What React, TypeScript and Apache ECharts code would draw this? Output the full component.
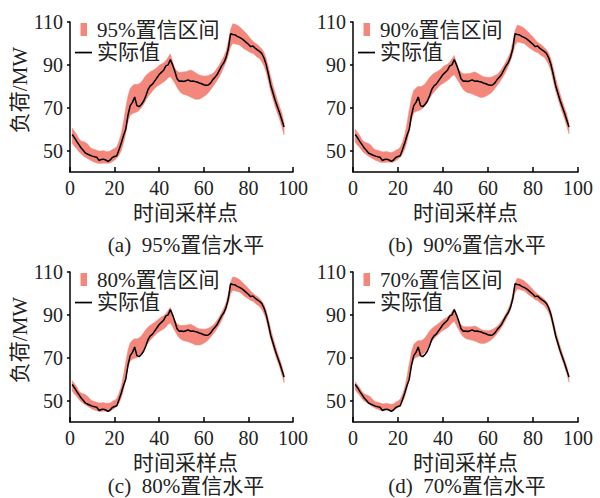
import React, { useEffect, useRef } from "react";
import * as echarts from "echarts";

// ---------- data ----------
const samplePoints = Array.from({ length: 96 }, (_, i) => i + 1);

const actual = [
  57.5, 56, 54.3, 52.8, 51.2, 50, 48.8, 48.3, 47.8, 47.4,
  47.1, 46.9, 45.4, 45.8, 46, 45.6, 45, 45.6, 46.8, 47.2,
  47.6, 50.5, 53.5, 57, 60, 66.5, 71, 72.5, 75, 71,
  70.5, 71.5, 73, 75.5, 78.5, 80.2, 81, 82.5, 84, 85.5,
  86.5, 87.5, 89.5, 90, 92.5, 90, 87, 83.5, 82.3, 82.5,
  82.2, 82.6, 83, 82.4, 82.5, 82.2, 82, 81.5, 81.2, 80.7,
  80.5, 80.6, 81.5, 83, 84.2, 85.5, 87.5, 89.5, 91, 93.5,
  97.5, 104.5, 104.2, 104, 103.3, 102.8, 102.2, 101.4, 100.5, 99.6,
  98.5, 98.8, 97.8, 97, 96.3, 95.3, 93.2, 90, 85.5, 80.5,
  77, 73.5, 70.5, 67.5, 64.3, 61,
];

const upper95 = [
  60.4, 59, 57.5, 55.5, 54.5, 54.2, 53.8, 53, 51.5, 50.8,
  50.5, 50.2, 49.8, 49.8, 50, 49.6, 49.5, 49.8, 50.5, 51,
  51.8, 54.5, 58, 63.5, 70, 75.5, 79, 80.2, 81, 80.8,
  81.2, 82, 83.5, 85, 86, 86.8, 87.4, 88, 88.8, 89.8,
  90.4, 91, 92, 93.5, 95.2, 91.5, 88.5, 87, 86.5, 86.5,
  86.8, 86.8, 87.2, 87.6, 87.2, 86.5, 85.8, 85.3, 85, 84.8,
  84.8, 85, 85.5, 86, 87, 88.5, 90, 92, 94, 96.5,
  101, 106.5, 109.2, 109, 108.5, 107.8, 106.8, 105.8, 104.7, 103.5,
  102.2, 101, 100.2, 99.5, 98.5, 97.5, 95.8, 93, 89, 84.5,
  80.5, 77, 73.5, 70.5, 67.5, 63,
];
const lower95 = [
  53.4, 52, 50.8, 49.5, 48.5, 47.5, 46.8, 46.2, 45.6, 45,
  44.6, 44.2, 44, 44, 44.1, 44.1, 44, 44.2, 44.8, 45.5,
  46.5, 47.8, 50, 53.4, 58, 63.5, 66.6, 67.2, 67.6, 68,
  68.8, 70, 71.5, 73.4, 75.2, 76.5, 77.8, 79, 80, 80.6,
  81.3, 82, 82.8, 84, 84.5, 83, 81.4, 79.5, 77.8, 76.8,
  76.2, 75.9, 75.5, 75, 74.5, 74, 73.9, 74, 74.5, 75.2,
  75.9, 77, 78.3, 79.8, 81.2, 82.8, 84.5, 86.5, 89, 91.5,
  94.5, 98.5, 100, 99.8, 99.5, 99.3, 98.5, 97.5, 96.9, 96.3,
  95.6, 95.4, 94.5, 93.6, 93, 91.5, 89.5, 86.5, 82, 77.5,
  74, 70.5, 67.5, 64.5, 61, 57.3,
];

const upper90 = [
  59.9, 58.5, 57.0, 55.1, 54.1, 53.7, 53.3, 52.5, 51.1, 50.4,
  50.1, 49.8, 49.4, 49.4, 49.6, 49.2, 49.1, 49.4, 50.1, 50.6,
  51.5, 54.0, 57.4, 62.8, 69.1, 74.6, 78.1, 79.2, 80.0, 79.8,
  80.3, 81.1, 82.6, 84.1, 85.2, 86.1, 86.7, 87.3, 88.1, 89.1,
  89.8, 90.3, 91.3, 92.8, 94.4, 90.9, 88.0, 86.5, 85.9, 85.8,
  86.0, 86.0, 86.4, 86.7, 86.3, 85.6, 85.0, 84.5, 84.3, 84.1,
  84.2, 84.4, 85.0, 85.5, 86.6, 88.1, 89.6, 91.6, 93.6, 96.1,
  100.6, 105.9, 108.5, 108.3, 107.8, 107.2, 106.2, 105.2, 104.1, 103.0,
  101.7, 100.6, 99.8, 99.1, 98.1, 97.1, 95.4, 92.6, 88.5, 84.0,
  80.1, 76.6, 73.1, 70.1, 67.1, 62.6,
];
const lower90 = [
  53.9, 52.5, 51.4, 49.9, 48.9, 48.1, 47.3, 46.7, 46.1, 45.4,
  45.1, 44.6, 44.4, 44.4, 44.6, 44.6, 44.5, 44.6, 45.3, 46.0,
  46.9, 48.4, 50.6, 54.2, 58.9, 64.4, 67.5, 68.2, 68.6, 69.0,
  69.7, 70.9, 72.4, 74.3, 76.0, 77.3, 78.5, 79.7, 80.7, 81.3,
  82.0, 82.7, 83.5, 84.8, 85.4, 83.7, 82.0, 80.1, 78.5, 77.6,
  77.0, 76.8, 76.4, 75.9, 75.5, 75.0, 74.8, 74.9, 75.3, 75.9,
  76.6, 77.6, 78.8, 80.3, 81.6, 83.3, 85.0, 87.0, 89.4, 91.9,
  95.0, 99.1, 100.7, 100.5, 100.2, 100.0, 99.2, 98.2, 97.5, 96.8,
  96.1, 95.8, 95.0, 94.1, 93.5, 91.9, 90.0, 87.0, 82.5, 78.0,
  74.5, 71.0, 67.9, 64.9, 61.5, 57.8,
];

const upper80 = [
  59.3, 57.9, 56.5, 54.5, 53.5, 53.2, 52.7, 51.9, 50.6, 49.9,
  49.6, 49.2, 48.9, 48.9, 49.1, 48.8, 48.7, 48.9, 49.6, 50.2,
  51.0, 53.5, 56.7, 61.9, 68.1, 73.6, 77.0, 78.1, 78.9, 78.8,
  79.2, 80.1, 81.6, 83.1, 84.3, 85.2, 85.9, 86.6, 87.4, 88.3,
  89.0, 89.6, 90.5, 92.0, 93.5, 90.2, 87.4, 85.9, 85.2, 85.0,
  85.1, 85.1, 85.4, 85.6, 85.2, 84.6, 83.9, 83.5, 83.4, 83.3,
  83.4, 83.7, 84.3, 85.0, 86.1, 87.6, 89.2, 91.2, 93.2, 95.7,
  100.0, 105.2, 107.7, 107.5, 107.1, 106.5, 105.5, 104.5, 103.5, 102.3,
  101.1, 100.1, 99.3, 98.6, 97.7, 96.5, 94.8, 92.0, 87.9, 83.4,
  79.5, 76.0, 72.5, 69.5, 66.5, 62.1,
];
const lower80 = [
  54.5, 53.1, 51.9, 50.5, 49.5, 48.6, 47.9, 47.3, 46.6, 45.9,
  45.6, 45.2, 44.9, 44.9, 45.1, 45.0, 44.9, 45.1, 45.8, 46.4,
  47.4, 48.9, 51.3, 55.1, 59.9, 65.4, 68.6, 69.3, 69.7, 70.0,
  70.8, 71.9, 73.4, 75.3, 76.9, 78.2, 79.3, 80.4, 81.4, 82.1,
  82.8, 83.4, 84.3, 85.6, 86.3, 84.4, 82.6, 80.7, 79.2, 78.4,
  77.9, 77.7, 77.4, 77.0, 76.6, 76.0, 75.9, 75.9, 76.2, 76.7,
  77.4, 78.3, 79.5, 80.8, 82.1, 83.8, 85.4, 87.4, 89.8, 92.3,
  95.6, 99.8, 101.5, 101.3, 100.9, 100.7, 99.9, 98.9, 98.1, 97.5,
  96.7, 96.3, 95.5, 94.6, 93.9, 92.5, 90.6, 87.6, 83.1, 78.6,
  75.1, 71.6, 68.5, 65.5, 62.1, 58.3,
];

const upper70 = [
  58.8, 57.4, 56.0, 54.2, 53.2, 52.7, 52.2, 51.5, 50.2, 49.5,
  49.2, 48.9, 48.5, 48.5, 48.7, 48.4, 48.3, 48.5, 49.3, 49.8,
  50.7, 53.0, 56.2, 61.3, 67.3, 72.8, 76.2, 77.3, 78.0, 77.9,
  78.4, 79.3, 80.8, 82.4, 83.6, 84.5, 85.2, 86.0, 86.8, 87.7,
  88.4, 89.0, 89.9, 91.4, 92.8, 89.6, 87.0, 85.4, 84.6, 84.4,
  84.4, 84.4, 84.6, 84.8, 84.4, 83.7, 83.2, 82.8, 82.7, 82.6,
  82.8, 83.2, 83.9, 84.6, 85.7, 87.3, 88.8, 90.8, 92.9, 95.4,
  99.6, 104.7, 107.1, 106.9, 106.5, 105.9, 105.0, 104.0, 102.9, 101.9,
  100.7, 99.7, 99.0, 98.2, 97.3, 96.2, 94.4, 91.6, 87.4, 82.9,
  79.1, 75.6, 72.2, 69.2, 66.1, 61.8,
];
const lower70 = [
  55.0, 53.6, 52.4, 50.8, 49.8, 49.1, 48.4, 47.7, 47.0, 46.3,
  46.0, 45.5, 45.3, 45.3, 45.5, 45.4, 45.3, 45.5, 46.1, 46.8,
  47.7, 49.4, 51.8, 55.7, 60.7, 66.2, 69.4, 70.1, 70.6, 70.9,
  71.6, 72.7, 74.2, 76.0, 77.6, 78.9, 80.0, 81.0, 82.0, 82.7,
  83.4, 84.0, 84.9, 86.2, 87.0, 85.0, 83.0, 81.2, 79.8, 79.0,
  78.6, 78.4, 78.2, 77.8, 77.4, 76.9, 76.6, 76.6, 76.9, 77.4,
  78.0, 78.8, 79.9, 81.2, 82.5, 84.1, 85.8, 87.8, 90.1, 92.6,
  96.0, 100.3, 102.1, 101.9, 101.5, 101.3, 100.4, 99.4, 98.7, 97.9,
  97.1, 96.7, 95.8, 95.0, 94.3, 92.8, 91.0, 88.0, 83.6, 79.1,
  75.5, 72.0, 68.8, 65.8, 62.5, 58.6,
];

const levels = ["95%", "90%", "80%", "70%"];
const panelLetters = ["(a)", "(b)", "(c)", "(d)"];
const uppers = [upper95, upper90, upper80, upper70];
const lowers = [lower95, lower90, lower80, lower70];
const yTickValues = [50, 70, 90, 110];

// ---------- styling ----------
const FONT = "'Liberation Serif', 'Times New Roman', 'Noto Sans CJK SC', serif";
const TEXT_COLOR = "#222";
const BAND_COLOR = "#F4877C";
const BAND_ICON = "path://M0,0M17,14M5.5,0.5h6.5v13h-6.5z";
const LINE_ICON = "path://M0,0M17,14M0,6.2h17v1.7h-17z";

const grids = [
  { left: 70, top: 22, width: 223, height: 150 },
  { left: 353, top: 22, width: 225, height: 150 },
  { left: 70, top: 272, width: 223, height: 150 },
  { left: 353, top: 272, width: 225, height: 150 },
];
const captionPos = [
  { x: 186, y: 245 },
  { x: 467, y: 245 },
  { x: 186, y: 486 },
  { x: 467, y: 486 },
];
const yNamePos = [
  { x: 20, y: 90 },
  { x: 20, y: 340 },
];

function buildOption() {
  const xAxes = grids.map((g, i) => ({
    type: "value",
    gridIndex: i,
    min: 0,
    max: 100,
    interval: 20,
    axisLine: { show: true, onZero: false, lineStyle: { color: "#000", width: 1.5 } },
    axisTick: { show: true, inside: true, length: 5, lineStyle: { color: "#000", width: 1.5 } },
    axisLabel: {
      fontFamily: FONT,
      fontSize: 20,
      color: TEXT_COLOR,
      margin: 6,
      showMinLabel: true,
      showMaxLabel: true,
    },
    splitLine: { show: false },
    name: "时间采样点",
    nameLocation: "middle",
    nameGap: 30,
    nameTextStyle: {
      fontFamily: FONT,
      fontSize: 21,
      color: TEXT_COLOR,
      padding: i % 2 === 0 ? [0, 0, 0, 8] : 0,
    },
  }));

  const yAxes = grids.map((g, i) => ({
    type: "value",
    gridIndex: i,
    min: 40,
    max: 110,
    axisLine: { show: true, onZero: false, lineStyle: { color: "#000", width: 1.5 } },
    axisTick: {
      show: true,
      inside: false,
      length: 3,
      customValues: yTickValues,
      lineStyle: { color: "#000", width: 1.5 },
    },
    axisLabel: {
      customValues: yTickValues,
      fontFamily: FONT,
      fontSize: 20,
      color: TEXT_COLOR,
      margin: 7,
    },
    splitLine: { show: false },
  }));

  const series: any[] = [];
  levels.forEach((lv, i) => {
    const up = uppers[i];
    const lo = lowers[i];
    series.push({
      type: "custom",
      name: lv + "置信区间",
      xAxisIndex: i,
      yAxisIndex: i,
      coordinateSystem: "cartesian2d",
      data: samplePoints.map((t, j) => [t, lo[j], up[j]]),
      encode: { x: 0, y: [1, 2] },
      color: BAND_COLOR,
      itemStyle: { color: BAND_COLOR },
      silent: true,
      clip: true,
      z: 1,
      renderItem: (params: any, api: any) => {
        if (params.dataIndex !== 0) return null;
        const pts: number[][] = [];
        for (let j = 0; j < samplePoints.length; j++) {
          pts.push(api.coord([samplePoints[j], up[j]]));
        }
        for (let j = samplePoints.length - 1; j >= 0; j--) {
          pts.push(api.coord([samplePoints[j], lo[j]]));
        }
        return {
          type: "polygon",
          shape: { points: pts },
          style: { fill: BAND_COLOR, stroke: BAND_COLOR, lineWidth: 0.5 },
          silent: true,
        };
      },
    });
    series.push({
      type: "line",
      name: "实际值",
      xAxisIndex: i,
      yAxisIndex: i,
      data: samplePoints.map((t, j) => [t, actual[j]]),
      symbol: "none",
      color: "#000",
      itemStyle: { color: "#000" },
      lineStyle: { color: "#000", width: 1.5 },
      silent: true,
      z: 3,
    });
  });

  const legends = grids.map((g, i) => ({
    orient: "vertical",
    left: g.left + 5,
    top: g.top - 3,
    padding: 0,
    itemWidth: 17,
    itemHeight: 14,
    itemGap: 2,
    selectedMode: false,
    itemStyle: { borderWidth: 0 },
    textStyle: { fontFamily: FONT, fontSize: 21, color: TEXT_COLOR, lineHeight: 19 },
    data: [
      { name: levels[i] + "置信区间", icon: BAND_ICON },
      { name: "实际值", icon: LINE_ICON },
    ],
  }));

  const graphic: any[] = [];
  yNamePos.forEach((p) => {
    graphic.push({
      type: "text",
      x: p.x,
      y: p.y,
      rotation: Math.PI / 2,
      silent: true,
      style: {
        text: "负荷/MW",
        fontFamily: FONT,
        fontSize: 21,
        fill: TEXT_COLOR,
        align: "center",
        verticalAlign: "middle",
      },
    });
  });
  levels.forEach((lv, i) => {
    graphic.push({
      type: "text",
      x: captionPos[i].x,
      y: captionPos[i].y,
      silent: true,
      style: {
        text: panelLetters[i] + "  " + lv + "置信水平",
        fontFamily: FONT,
        fontSize: 21,
        fill: TEXT_COLOR,
        align: "center",
        verticalAlign: "middle",
      },
    });
  });

  return {
    animation: false,
    backgroundColor: "#fff",
    grid: grids.map((g) => ({ ...g, containLabel: false })),
    xAxis: xAxes,
    yAxis: yAxes,
    legend: legends,
    series,
    graphic,
  };
}

export default function App() {
  const ref = useRef<HTMLDivElement>(null);
  useEffect(() => {
    if (!ref.current) return;
    const chart = echarts.init(ref.current, null, { renderer: "svg" });
    chart.setOption(buildOption() as any);
    return () => chart.dispose();
  }, []);
  return (
    <div
      ref={ref}
      style={{ position: "absolute", left: 0, top: 0, width: 600, height: 498, background: "#fff" }}
    />
  );
}
